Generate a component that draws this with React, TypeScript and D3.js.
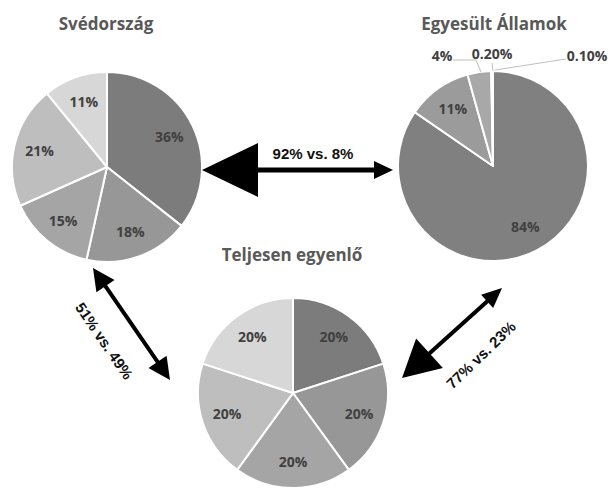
import React from "react";
import * as d3 from "d3";

// ---- data ----
const swedenLabels = ["36%", "18%", "15%", "21%", "11%"];
const swedenValues = [36, 18, 15, 21, 11];
const usLabels = ["84%", "11%", "4%", "0.20%", "0.10%"];
const usValues = [84, 11, 4, 0.2, 0.1];
const equalLabels = ["20%", "20%", "20%", "20%", "20%"];
const equalValues = [20, 20, 20, 20, 20];
const pieTitles = ["Svédország", "Egyesült Államok", "Teljesen egyenlő"];
const arrowTexts = ["92% vs. 8%", "51% vs. 49%", "77% vs. 23%"];

// ---- layout / style ----
const W = 610;
const H = 490;
const R = 95;
const sliceColors = ["#7c7c7c", "#979797", "#a5a5a5", "#bebebe", "#d7d7d7"];
const usColors = ["#808080", "#9b9b9b", "#a8a8a8", "#c0c0c0", "#d7d7d7"];
const labelFont = "'Open Sans', Lato, sans-serif";
const arrowFont = "'Liberation Sans', Arial, sans-serif";

type PieSpec = {
  values: number[];
  labels: string[];
  colors: string[];
  cx: number;
  cy: number;
  title: string;
  tx: number;
  ty: number;
  inside: boolean[];
};

const pies: PieSpec[] = [
  { values: swedenValues, labels: swedenLabels, colors: sliceColors, cx: 107, cy: 167, title: pieTitles[0], tx: 106, ty: 30, inside: [true, true, true, true, true] },
  { values: usValues, labels: usLabels, colors: usColors, cx: 493, cy: 166, title: pieTitles[1], tx: 494, ty: 30, inside: [true, true, false, false, false] },
  { values: equalValues, labels: equalLabels, colors: sliceColors, cx: 293, cy: 393, title: pieTitles[2], tx: 292, ty: 261, inside: [true, true, true, true, true] },
];

// outside label placement for the tiny US slices
const usOutside: Record<number, { lx: number; ly: number; pts: [number, number][]; anchor: string }> = {
  2: { lx: 442, ly: 61, pts: [[453, 60], [476, 60], [481, 72]], anchor: "middle" },
  3: { lx: 492, ly: 59, pts: [[492, 63], [493, 71]], anchor: "middle" },
  4: { lx: 587, ly: 61, pts: [[566, 59], [495, 70]], anchor: "middle" },
};

type Arrow = { x1: number; y1: number; x2: number; y2: number; h1: number; w1: number; h2: number; w2: number; sw: number; text: string; tx: number; ty: number; rot: number };

const arrows: Arrow[] = [
  { x1: 202, y1: 170, x2: 393, y2: 170, h1: 56, w1: 27, h2: 19, w2: 9, sw: 5, text: arrowTexts[0], tx: 313, ty: 159, rot: 0 },
  { x1: 93, y1: 268, x2: 170, y2: 380, h1: 22, w1: 11, h2: 22, w2: 11, sw: 4, text: arrowTexts[1], tx: 104, ty: 341, rot: 55.5 },
  { x1: 402, y1: 378, x2: 502, y2: 288, h1: 37, w1: 20, h2: 20, w2: 9, sw: 4, text: arrowTexts[2], tx: 481, ty: 355, rot: -44 },
];

function arrowPath(a: Arrow): { line: string; heads: string[] } {
  const dx = a.x2 - a.x1;
  const dy = a.y2 - a.y1;
  const len = Math.sqrt(dx * dx + dy * dy);
  const ux = dx / len;
  const uy = dy / len;
  const px = -uy;
  const py = ux;
  const b1x = a.x1 + ux * a.h1;
  const b1y = a.y1 + uy * a.h1;
  const b2x = a.x2 - ux * a.h2;
  const b2y = a.y2 - uy * a.h2;
  const p = d3.path();
  p.moveTo(b1x - ux * 1, b1y - uy * 1);
  p.lineTo(b2x + ux * 1, b2y + uy * 1);
  const h1 = d3.path();
  h1.moveTo(a.x1, a.y1);
  h1.lineTo(b1x + px * a.w1, b1y + py * a.w1);
  h1.lineTo(b1x - px * a.w1, b1y - py * a.w1);
  h1.closePath();
  const h2 = d3.path();
  h2.moveTo(a.x2, a.y2);
  h2.lineTo(b2x + px * a.w2, b2y + py * a.w2);
  h2.lineTo(b2x - px * a.w2, b2y - py * a.w2);
  h2.closePath();
  return { line: p.toString(), heads: [h1.toString(), h2.toString()] };
}

function Pie({ spec, pieIndex }: { spec: PieSpec; pieIndex: number }) {
  const pieGen = d3.pie<number>().sort(null).value((d) => d).startAngle(0).endAngle(2 * Math.PI);
  const arcs = pieGen(spec.values);
  const arc = d3.arc<d3.PieArcDatum<number>>().innerRadius(0).outerRadius(R);
  const labelArc = d3.arc<d3.PieArcDatum<number>>().innerRadius(R * 0.73).outerRadius(R * 0.73);
  const line = d3.line();
  return (
    <g>
      <text x={spec.tx} y={spec.ty} textAnchor="middle" fontFamily={labelFont} fontWeight={700} fontSize={17} fill="#595959">
        {spec.title}
      </text>
      <g transform={`translate(${spec.cx},${spec.cy})`}>
        {arcs.map((a, i) => (
          <path key={i} d={arc(a) || ""} fill={spec.colors[i]} stroke="#ffffff" strokeWidth={2} strokeLinejoin="round" />
        ))}
        {arcs.map((a, i) => {
          if (!spec.inside[i]) return null;
          const [x, y] = labelArc.centroid(a);
          return (
            <text key={"l" + i} x={x} y={y} dy="0.35em" textAnchor="middle" fontFamily={labelFont} fontWeight={700} fontSize={14} fill="#404040">
              {spec.labels[i]}
            </text>
          );
        })}
      </g>
      {pieIndex === 1 &&
        arcs.map((a, i) => {
          const o = usOutside[i];
          if (!o) return null;
          return (
            <g key={"o" + i}>
              <path d={line(o.pts) || ""} fill="none" stroke="#bfbfbf" strokeWidth={1} />
              <text x={o.lx} y={o.ly} textAnchor={o.anchor as any} fontFamily={labelFont} fontWeight={700} fontSize={14} fill="#404040">
                {spec.labels[i]}
              </text>
            </g>
          );
        })}
    </g>
  );
}

export default function App() {
  return (
    <svg width={W} height={H} viewBox={`0 0 ${W} ${H}`} style={{ position: "absolute", left: 0, top: 0, background: "#ffffff" }}>
      <rect width={W} height={H} fill="#ffffff" />
      {pies.map((p, i) => (
        <Pie key={i} spec={p} pieIndex={i} />
      ))}
      {arrows.map((a, i) => {
        const ap = arrowPath(a);
        return (
          <g key={"a" + i}>
            <path d={ap.line} stroke="#000000" strokeWidth={a.sw} fill="none" />
            {ap.heads.map((h, j) => (
              <path key={j} d={h} fill="#000000" />
            ))}
            <text
              x={0}
              y={0}
              transform={`translate(${a.tx},${a.ty}) rotate(${a.rot})`}
              textAnchor="middle"
              dy={a.rot === 0 ? 0 : "0.35em"}
              fontFamily={arrowFont}
              fontWeight={700}
              fontSize={15}
              fill="#111111"
            >
              {a.text}
            </text>
          </g>
        );
      })}
    </svg>
  );
}
